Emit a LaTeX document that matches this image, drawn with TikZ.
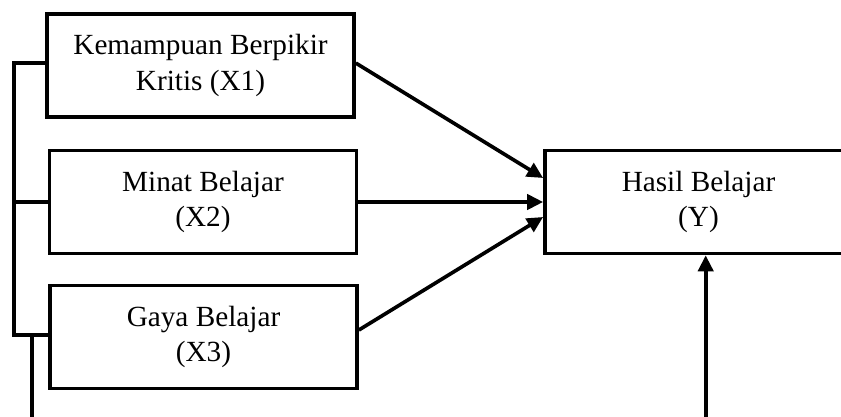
\documentclass[tikz,border=0pt]{standalone}
\usepackage{fontspec}
\setmainfont{Liberation Serif}
\usetikzlibrary{arrows.meta}
\tikzset{var/.style={draw, line width=2.6pt, minimum width=7.675cm, minimum height=2.575cm, align=center, font=\fontsize{20.8}{25}\selectfont},
  con/.style={line width=2.6pt},
  arr/.style={con, -{Triangle[length=0.4cm,width=0.38cm]}}}
\begin{document}
\begin{tikzpicture}[x=0.025cm,y=-0.025cm]
\useasboundingbox (0,0) rectangle (841,416);
\clip (0,0) rectangle (841,416);
\node[var] (x1) at (200.5,65.5) {Kemampuan Berpikir\\Kritis (X1)};
\node[var] (x2) at (203,202) {Minat Belajar\\(X2)};
\node[var] (x3) at (203.5,337) {Gaya Belajar\\(X3)};
\node[var] (y) at (698.5,202) {Hasil Belajar\\(Y)};
\coordinate (bk) at (14,0);
\coordinate (lo) at (32,425);
\coordinate (yb) at (705.7,425);
\draw[arr] ([yshift=0.06cm]x1.east) -- ([yshift=0.6cm]y.west);
\draw[arr] (x2.east) -- (y.west);
\draw[arr] ([yshift=0.175cm]x3.east) -- ([yshift=-0.375cm]y.west);
\draw[con] ([yshift=0.06cm]x1.west) -- ([yshift=0.06cm]x1.west -| bk) |- ([yshift=0.05cm]x3.west);
\draw[con] (x2.west) -- (x2.west -| bk);
\draw[con] ([yshift=0.05cm]x3.west -| lo) -- (lo);
\draw[arr] (yb) -- (yb |- y.south);
\end{tikzpicture}
\end{document}
